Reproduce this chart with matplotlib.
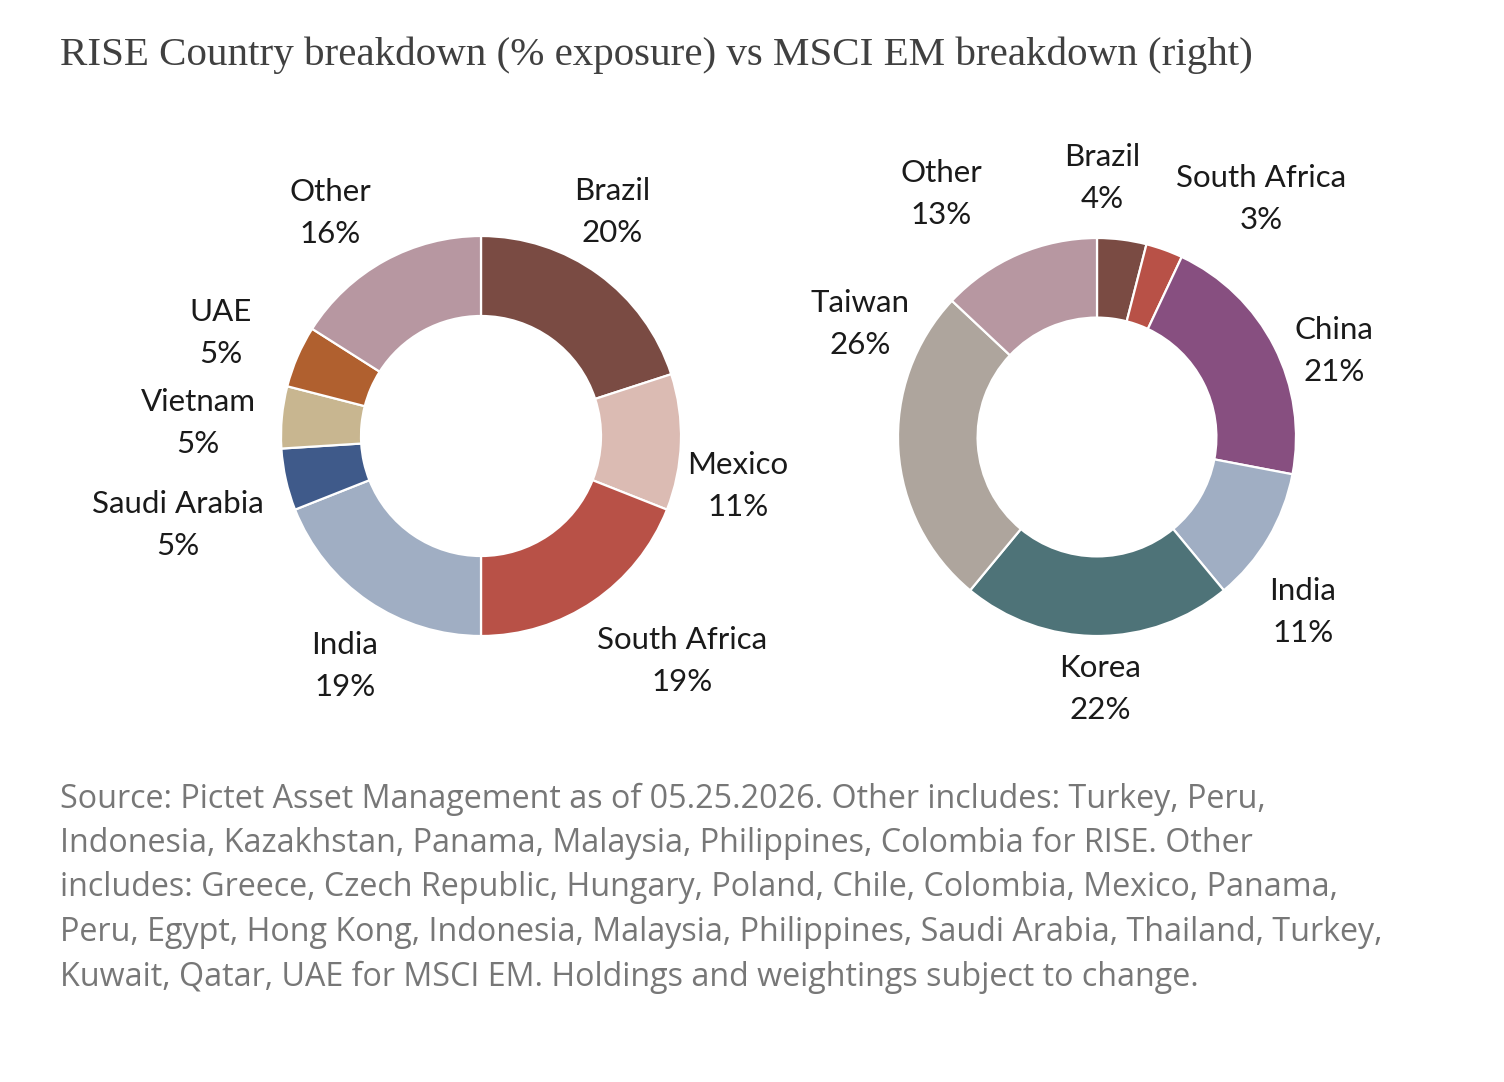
import matplotlib
matplotlib.use("Agg")
import matplotlib.pyplot as plt

# ---------------- data ----------------
rise_countries = ["Brazil", "Mexico", "South Africa", "India", "Saudi Arabia", "Vietnam", "UAE", "Other"]
rise_values = [20, 11, 19, 19, 5, 5, 5, 16]

msci_countries = ["Brazil", "South Africa", "China", "India", "Korea", "Taiwan", "Other"]
msci_values = [4, 3, 21, 11, 22, 26, 13]

title = "RISE Country breakdown (% exposure) vs MSCI EM breakdown (right)"
source_lines = [
    "Source: Pictet Asset Management as of 05.25.2026. Other includes: Turkey, Peru,",
    "Indonesia, Kazakhstan, Panama, Malaysia, Philippines, Colombia for RISE. Other",
    "includes: Greece, Czech Republic, Hungary, Poland, Chile, Colombia, Mexico, Panama,",
    "Peru, Egypt, Hong Kong, Indonesia, Malaysia, Philippines, Saudi Arabia, Thailand, Turkey,",
    "Kuwait, Qatar, UAE for MSCI EM. Holdings and weightings subject to change.",
]

# ---------------- styles ----------------
colors = {
    "Brazil": "#7a4b43", "Mexico": "#dbbbb3", "South Africa": "#b85147",
    "India": "#a0aec3", "Saudi Arabia": "#3f5a8a", "Vietnam": "#c8b690",
    "UAE": "#b0602f", "Other": "#b797a1", "China": "#874f80",
    "Korea": "#4e7378", "Taiwan": "#aea59d",
}

W, H = 1504, 1082
fig = plt.figure(figsize=(W / 100, H / 100), dpi=100)
fig.patch.set_facecolor("white")

# label centre positions in pixels (x, y of name line) -- layout only
left_label_pos = {
    "Brazil": (612, 191), "Mexico": (738, 465), "South Africa": (682, 640),
    "India": (345, 645), "Saudi Arabia": (178, 504), "Vietnam": (198, 402),
    "UAE": (221, 312), "Other": (330, 192),
}
right_label_pos = {
    "Brazil": (1102, 157), "South Africa": (1261, 178), "China": (1334, 330),
    "India": (1303, 591), "Korea": (1100, 668), "Taiwan": (860, 303),
    "Other": (941, 173),
}
LINE_GAP = 42
LABEL_FONT = "Lato"


def donut(cx, cy, r_px, names, values, label_pos):
    size = 600
    ax = fig.add_axes([(cx - size / 2) / W, (H - cy - size / 2) / H, size / W, size / H])
    scale = (size / 2) / r_px
    ax.pie(values, colors=[colors[n] for n in names], startangle=90, counterclock=False,
           radius=1.0, wedgeprops=dict(width=0.4, edgecolor="white", linewidth=1.6))
    ax.set_xlim(-scale, scale)
    ax.set_ylim(-scale, scale)
    ax.set_aspect("equal")
    ax.axis("off")
    for n, v in zip(names, values):
        x, y = label_pos[n]
        fig.text(x / W, 1 - y / H, n, ha="center", va="center", fontsize=22.5,
                 family=LABEL_FONT, color="#1a1a1a")
        fig.text(x / W, 1 - (y + LINE_GAP) / H, f"{v}%", ha="center", va="center", fontsize=22.5,
                 family=LABEL_FONT, color="#1a1a1a")


donut(481, 436, 200, rise_countries, rise_values, left_label_pos)
donut(1097, 437, 199, msci_countries, msci_values, right_label_pos)

fig.text(60 / W, 1 - 55 / H, title, ha="left", va="center", fontsize=29.5,
         family="Liberation Serif", color="#404040")

for i, line in enumerate(source_lines):
    fig.text(60 / W, 1 - (799 + i * 44.5) / H, line, ha="left", va="center", fontsize=23.2,
             family="Open Sans", color="#777777")

fig.savefig("out.png", dpi=100, facecolor="white")
